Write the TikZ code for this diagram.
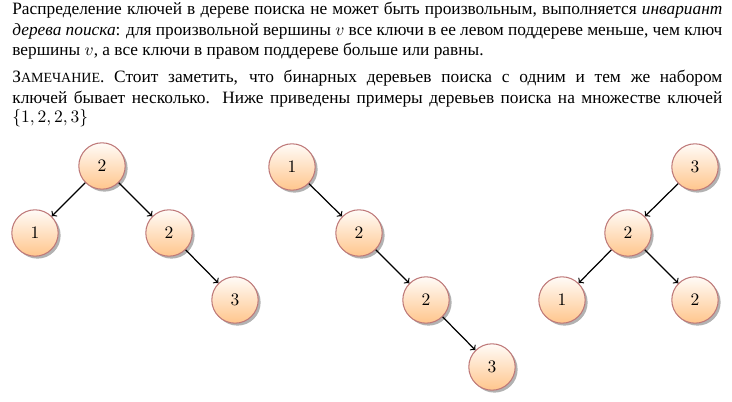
\documentclass[tikz,border=0pt]{standalone}
\usepackage[no-math]{fontspec}
\setmainfont{Liberation Serif}
\usetikzlibrary{shadows}
\definecolor{nodeborder}{RGB}{190,120,120}
\newcommand{\jline}[1]{\hbox to 405.7pt{#1}}
\begin{document}
\begin{tikzpicture}[x=0.5714pt,y=-0.5714pt,
  keynode/.style={circle, draw=nodeborder, line width=0.6pt, top color=orange!3, bottom color=orange!45,
    minimum size=26.5pt, inner sep=0pt, font=\fontsize{10}{12}\selectfont,
    drop shadow={shadow xshift=1.4pt, shadow yshift=-1.4pt, opacity=0.3, fill=black}},
  edge/.style={->, line width=0.7pt, black},
  txt/.style={anchor=base west, inner sep=0pt, font=\fontsize{9.9}{12}\selectfont}]
\useasboundingbox (0,0) rectangle (732,402);
\node[txt] (l1) at (12,15) {\jline{Распределение ключей в дереве поиска не может быть произвольным, выполняется \textit{инвариант}}};
\node[txt] (l2) at (12,35.5) {\jline{\textit{дерева поиска}: для произвольной вершины $v$ все ключи в ее левом поддереве меньше, чем ключ}};
\node[txt] (l3) at (12,56) {вершины $v$, а все ключи в правом поддереве больше или равны.};
\node[txt] (l4) at (12,83) {\jline{З{\fontsize{8}{12}\selectfont АМЕЧАНИЕ}. Стоит заметить, что бинарных деревьев поиска с одним и тем же набором}};
\node[txt] (l5) at (12,103.5) {\jline{ключей бывает несколько. Ниже приведены примеры деревьев поиска на множестве ключей}};
\node[txt] (l6) at (12,123) {$\{1,2,2,3\}$};
% tree 1
\node[keynode] (a2) at (102,166) {$2$};
\node[keynode] (a1) at (35,233) {$1$};
\node[keynode] (a2b) at (169,233) {$2$};
\node[keynode] (a3) at (235,300) {$3$};
\draw[edge] (a2) -- (a1);
\draw[edge] (a2) -- (a2b);
\draw[edge] (a2b) -- (a3);
% tree 2
\node[keynode] (b1) at (292,167) {$1$};
\node[keynode] (b2) at (359,233) {$2$};
\node[keynode] (b2b) at (426,300) {$2$};
\node[keynode] (b3) at (492,367) {$3$};
\draw[edge] (b1) -- (b2);
\draw[edge] (b2) -- (b2b);
\draw[edge] (b2b) -- (b3);
% tree 3
\node[keynode] (c3) at (695,167) {$3$};
\node[keynode] (c2) at (628,233) {$2$};
\node[keynode] (c1) at (562,300) {$1$};
\node[keynode] (c2b) at (695,300) {$2$};
\draw[edge] (c3) -- (c2);
\draw[edge] (c2) -- (c1);
\draw[edge] (c2) -- (c2b);
\end{tikzpicture}
\end{document}
